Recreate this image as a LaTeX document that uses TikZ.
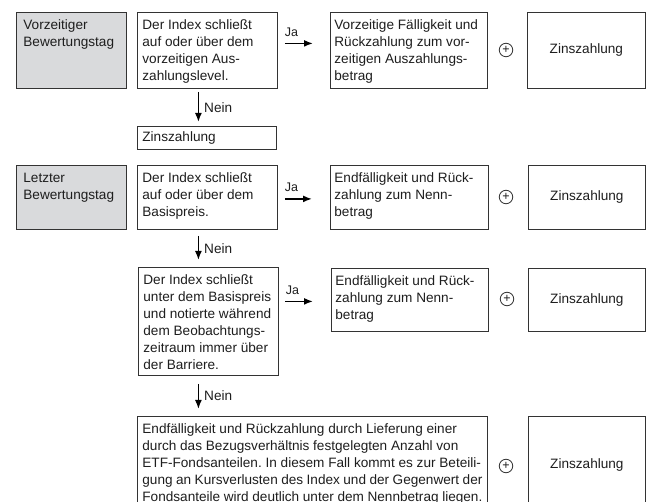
\documentclass[tikz,border=0pt]{standalone}
\usepackage{fontspec}
\setmainfont{Liberation Sans}
\usetikzlibrary{arrows.meta}
\definecolor{linec}{HTML}{333333}
\definecolor{greyc}{HTML}{D9DADC}
\definecolor{textc}{HTML}{1E1E1E}
\newcommand\bt[3]{\parbox[t][#2][t]{#1}{\raggedright\strut #3}}
\frenchspacing
\begin{document}
\begin{tikzpicture}[x=1pt,y=-1pt,
  every node/.append style={text=textc},
  fs/.style={font=\fontsize{13.6}{17}\selectfont},
  box/.style={draw=linec, line width=0.8pt, anchor=north west, inner xsep=5pt, inner ysep=5pt, fs},
  gbox/.style={box, fill=greyc, inner xsep=7pt},
  zbox/.style={draw=linec, line width=0.8pt, anchor=north west, inner sep=0pt, fs, align=center},
  plus/.style={circle, draw=linec, line width=0.8pt, minimum size=13.5pt, inner sep=0pt, font=\fontsize{12.5}{12.5}\selectfont},
  arr/.style={draw=black, line width=1.6pt, -{Latex[length=9pt,width=7pt]}},
  lab/.style={fs, inner sep=2pt},
  jalab/.style={font=\fontsize{12.5}{12.5}\selectfont, inner sep=1pt, above=5pt}
]
\useasboundingbox (0,0) rectangle (646,502);
\fill[white] (0,0) rectangle (646,502);
\clip (0,0) rectangle (646,502);

% Row 1
\node[gbox] (g1) at (16,12) {\bt{96pt}{66pt}{Vorzeitiger\\Bewertungstag}};
\node[box] (c1) at (137,12) {\bt{130pt}{66pt}{Der Index schließt\\auf oder über dem\\vorzeitigen Aus-\\zahlungslevel.}};
\node[box, inner xsep=4pt] (r1) at (330,12) {\bt{149pt}{66pt}{Vorzeitige Fälligkeit und\\Rückzahlung zum vor-\\zeitigen Auszahlungs-\\betrag}};
\node[zbox, minimum width=118pt, minimum height=76pt] (z1) at (527,12) {Zinszahlung};
\node[plus] (p1) at (506,50) {+};
\node[box, minimum width=139pt, minimum height=23pt, inner ysep=0pt, text width=129pt, align=left] (zs) at (137,126) {Zinszahlung};

% Row 2
\node[gbox] (g2) at (16,165) {\bt{96pt}{54pt}{Letzter\\Bewertungstag}};
\node[box] (c2) at (137,165) {\bt{130pt}{54pt}{Der Index schließt\\auf oder über dem\\Basispreis.}};
\node[box, inner xsep=4pt] (r2) at (330,165) {\bt{150pt}{54pt}{Endfälligkeit und Rück-\\zahlung zum Nenn-\\betrag}};
\node[zbox, minimum width=117pt, minimum height=64pt] (z2) at (528,165) {Zinszahlung};
\node[plus] (p2) at (506,197) {+};

% Row 3
\node[box] (c3) at (138,267) {\bt{130pt}{98pt}{Der Index schließt\\unter dem Basispreis\\und notierte während\\dem Beobachtungs-\\zeitraum immer über\\der Barriere.}};
\node[box, inner xsep=4pt] (r3) at (331,268) {\bt{149pt}{53pt}{Endfälligkeit und Rück-\\zahlung zum Nenn-\\betrag}};
\node[zbox, minimum width=117pt, minimum height=63pt] (z3) at (528,268) {Zinszahlung};
\node[plus] (p3) at (507,299) {+};

% Row 4
\node[box] (b4) at (137,416) {\bt{340pt}{88pt}{Endfälligkeit und Rückzahlung durch Lieferung einer\\durch das Bezugsverhältnis festgelegten Anzahl von\\ETF-Fondsanteilen. In diesem Fall kommt es zur Beteili-\\gung an Kursverlusten des Index und der Gegenwert der\\Fondsanteile wird deutlich unter dem Nennbetrag liegen.}};
\node[zbox, minimum width=117pt, minimum height=98pt] (z4) at (528,416) {Zinszahlung};
\node[plus] (p4) at (506,466) {+};

% Ja arrows
\draw[arr, shorten <=7pt, shorten >=17pt] ([yshift=7pt]c1.east) -- ([yshift=7pt]r1.west) node[jalab, pos=0.26] {Ja};
\draw[arr, shorten <=7pt, shorten >=18pt] ([yshift=-1.5pt]c2.east) -- ([yshift=-1.5pt]r2.west) node[jalab, pos=0.26] {Ja};
\draw[arr, shorten <=6.5pt, shorten >=18pt] ([yshift=20pt]c3.east) -- ([yshift=-1.5pt]r3.west) node[jalab, pos=0.26] {Ja};

% Nein arrows
\draw[arr, shorten <=3pt, shorten >=4pt] ([xshift=-9pt]c1.south) -- ([xshift=-9pt]c1.south |- zs.north) node[lab, right=3pt, midway] {Nein};
\draw[arr, shorten <=6pt, shorten >=7pt] ([xshift=-9pt]c2.south) -- ([xshift=-9pt]c2.south |- c3.north) node[lab, right=3pt, midway] {Nein};
\draw[arr, shorten <=8pt, shorten >=7pt] ([xshift=-10pt]c3.south) -- ([xshift=-10pt]c3.south |- b4.north) node[lab, right=3pt, midway] {Nein};
\end{tikzpicture}
\end{document}
